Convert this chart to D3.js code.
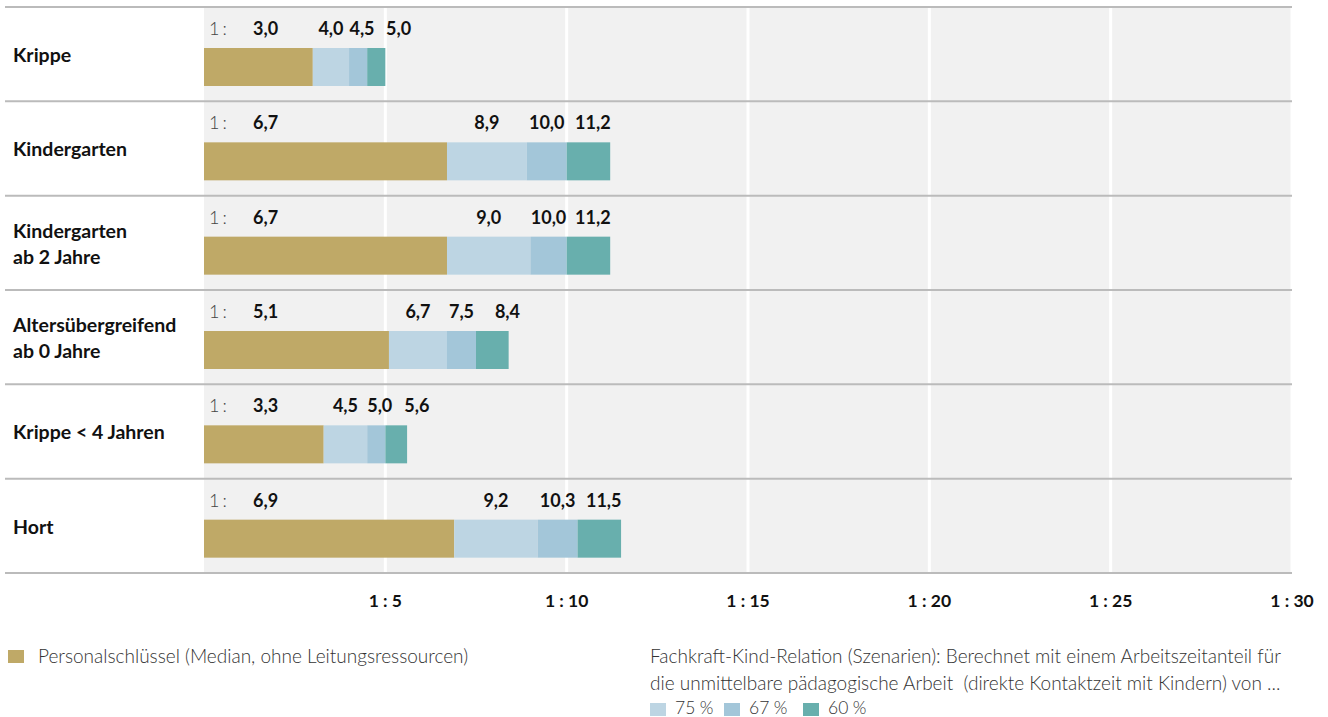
<!DOCTYPE html>
<html>
<head>
<meta charset="utf-8">
<script src="https://cdn.jsdelivr.net/npm/d3@7"></script>
<style>
  body { margin: 0; background: #fff; font-family: Lato, "Noto Sans", sans-serif; }
  svg text { font-family: Lato, "Noto Sans", sans-serif; }
</style>
</head>
<body>
<div id="chart"></div>
<script>
// Fachkraft-Kind-Relation, Szenarien je Gruppenform

var categories = [["Krippe"], ["Kindergarten"], ["Kindergarten", "ab 2 Jahre"], ["Altersübergreifend", "ab 0 Jahre"], ["Krippe < 4 Jahren"], ["Hort"]];
var personal = [3.0, 6.7, 6.7, 5.1, 3.3, 6.9];   // Personalschlüssel (Median)
var s75 = [4.0, 8.9, 9.0, 6.7, 4.5, 9.2];
var s67 = [4.5, 10.0, 10.0, 7.5, 5.0, 10.3];
var s60 = [5.0, 11.2, 11.2, 8.4, 5.6, 11.5];
var ticks = [5, 10, 15, 20, 25, 30];
var seriesNames = ["Personalschlüssel (Median, ohne Leitungsressourcen)", "75\u202F%", "67\u202F%", "60\u202F%"];

var colors = ["#bfa967", "#bdd5e3", "#a3c6d9", "#68afad"];

var w = 1328, h = 717;
var mLeft = 204, mRight = 1292, mTop = 7, mBottom = 573;

var fmt = function (v) { return d3.format(".1f")(v).replace(".", ","); };

var svg = d3.select("#chart").append("svg")
            .attr("width", w)
            .attr("height", h);

var x = d3.scaleLinear().domain([0, 30]).range([mLeft, mRight]);
var y = d3.scaleBand().domain(d3.range(categories.length)).range([mTop, mBottom]);

// grey plot background
svg.append("rect")
   .attr("x", mLeft).attr("y", mTop)
   .attr("width", mRight - mLeft).attr("height", mBottom - mTop)
   .attr("fill", "#f1f1f1");

// white grid lines
svg.append("g").selectAll("line")
   .data(ticks)
   .enter().append("line")
   .attr("x1", function (d) { return x(d); })
   .attr("x2", function (d) { return x(d); })
   .attr("y1", mTop).attr("y2", mBottom)
   .attr("stroke", "#fff").attr("stroke-width", 3);

// row separators
svg.append("g").selectAll("line")
   .data(d3.range(categories.length + 1))
   .enter().append("line")
   .attr("x1", 5).attr("x2", mRight)
   .attr("y1", function (i) { return mTop + i * y.step(); })
   .attr("y2", function (i) { return mTop + i * y.step(); })
   .attr("stroke", "#bbb").attr("stroke-width", 2);

// axis labels
svg.append("g").selectAll("text")
   .data(ticks)
   .enter().append("text")
   .attr("x", function (d) { return x(d); })
   .attr("y", 607)
   .attr("text-anchor", "middle")
   .attr("font-size", 17.5).attr("font-weight", 700).attr("fill", "#111")
   .text(function (d) { return "1 : " + d; });

var rows = svg.append("g").selectAll("g")
   .data(categories)
   .enter().append("g")
   .attr("transform", function (d, i) { return "translate(0," + y(i) + ")"; });

// category labels
rows.append("text")
   .attr("x", 13)
   .attr("font-size", 19.5).attr("font-weight", 700).attr("fill", "#111")
   .each(function (d) {
     var t = d3.select(this);
     var y0 = y.bandwidth() / 2 + 8 - (d.length - 1) * 13;
     d.forEach(function (line, k) {
       t.append("tspan").attr("x", 13).attr("y", y0 + k * 26).text(line);
     });
   });

// stacked segments
rows.each(function (d, i) {
  var g = d3.select(this);
  var vals = [personal[i], s75[i], s67[i], s60[i]];
  var segs = vals.map(function (v, k) { return { k: k, x0: k === 0 ? 0 : vals[k - 1], x1: v }; });

  g.selectAll("rect")
   .data(segs)
   .enter().append("rect")
   .attr("x", function (s) { return x(s.x0); })
   .attr("width", function (s) { return x(s.x1) - x(s.x0); })
   .attr("y", 41).attr("height", 38)
   .attr("fill", function (s) { return colors[s.k]; });

  g.append("text")
   .attr("x", 209).attr("y", 28)
   .attr("font-size", 18).attr("font-weight", 300).attr("fill", "#444")
   .attr("letter-spacing", 3)
   .text("1:");

  // value labels
  var prevEnd = 0;
  segs.forEach(function (s, k) {
    var t = g.append("text")
             .attr("y", 28)
             .attr("font-size", 18).attr("font-weight", 700).attr("fill", "#111")
             .text(fmt(s.x1));
    var tw = t.node().getComputedTextLength();
    var a = x(s.x0), b = x(s.x1), sx;
    if (k === 0) {
      sx = 253;
    } else if (k === segs.length - 1) {
      sx = Math.max(b, a + 44) - tw;
    } else {
      sx = (a + b) / 2 - tw / 2;
      if (sx < a) sx = a;
    }
    if (sx < prevEnd + 6) sx = prevEnd + 6;
    t.attr("x", sx);
    prevEnd = sx + tw;
  });
});

// legends
var leg = svg.append("g");
leg.append("rect").attr("x", 8).attr("y", 650).attr("width", 16).attr("height", 13).attr("fill", colors[0]);
leg.append("text").attr("x", 38).attr("y", 663)
   .attr("font-size", 19).attr("font-weight", 300).attr("fill", "#333")
   .text(seriesNames[0]);

var leg2 = svg.append("g");
leg2.append("text").attr("x", 650).attr("y", 663)
    .attr("font-size", 19).attr("font-weight", 300).attr("fill", "#333")
    .text("Fachkraft-Kind-Relation (Szenarien): Berechnet mit einem Arbeitszeitanteil für");
leg2.append("text").attr("x", 650).attr("y", 690)
    .attr("font-size", 19).attr("font-weight", 300).attr("fill", "#333")
    .attr("xml:space", "preserve")
    .text("die unmittelbare pädagogische Arbeit  (direkte Kontaktzeit mit Kindern) von ...");

var swx = [650, 724, 803];
seriesNames.slice(1).forEach(function (n, k) {
  leg2.append("rect").attr("x", swx[k]).attr("y", 703).attr("width", 16).attr("height", 13).attr("fill", colors[k + 1]);
  leg2.append("text").attr("x", swx[k] + 25).attr("y", 714)
      .attr("font-size", 17.5).attr("font-weight", 300).attr("fill", "#333")
      .text(n);
});
</script>
</body>
</html>
